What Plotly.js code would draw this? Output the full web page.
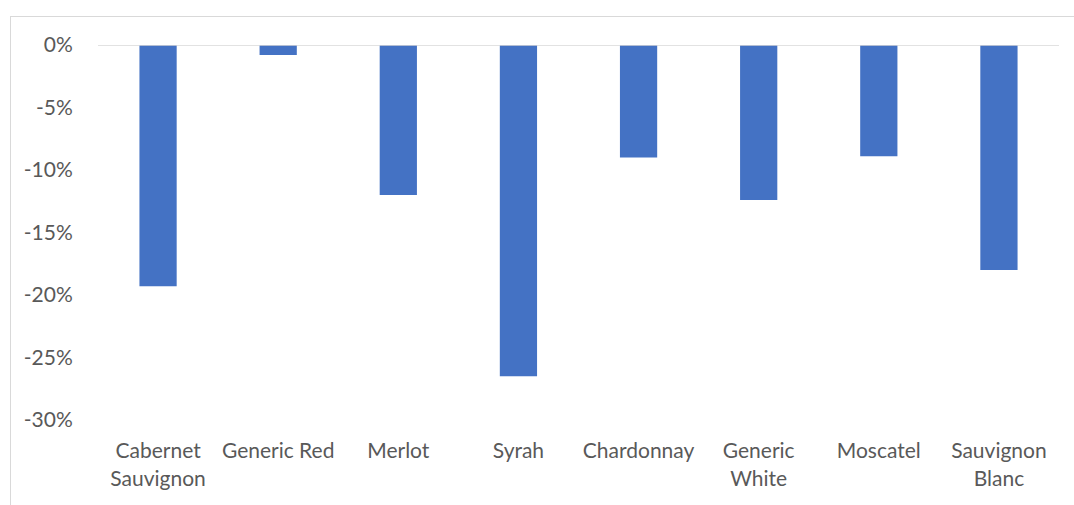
<!DOCTYPE html>
<html>
<head>
<meta charset="utf-8">
<script src="https://cdn.plot.ly/plotly-3.0.1.min.js"></script>
<style>
html,body{margin:0;padding:0;background:#fff;}
#wrap{position:relative;width:1074px;height:505px;overflow:hidden;}
#chart{width:1074px;height:505px;}
#frame{position:absolute;left:10px;top:16px;width:1100px;height:600px;border-left:1.5px solid #d9d9d9;border-top:1.5px solid #d9d9d9;pointer-events:none;}
</style>
</head>
<body>
<div id="wrap"><div id="chart"></div><div id="frame"></div></div>
<script>
const categories = ["Cabernet<br>Sauvignon", "Generic Red", "Merlot", "Syrah", "Chardonnay", "Generic<br>White", "Moscatel", "Sauvignon<br>Blanc"];
const values = [-0.193, -0.008, -0.120, -0.265, -0.090, -0.124, -0.089, -0.180];
const yTicks = [0, -0.05, -0.10, -0.15, -0.20, -0.25, -0.30];
const yTickLabels = ["0%", "-5%", "-10%", "-15%", "-20%", "-25%", "-30%"];

const font = {family: "Lato, 'Open Sans', sans-serif", size: 21, color: "#595959"};

Plotly.newPlot("chart", [{
  type: "bar",
  x: categories,
  y: values,
  marker: {color: "#4472c4", line: {width: 0}},
  width: 0.31,
  hoverinfo: "skip"
}], {
  width: 1074, height: 505,
  margin: {l: 98, r: 15, t: 45, b: 85},
  paper_bgcolor: "#fff", plot_bgcolor: "#fff",
  showlegend: false,
  font: font,
  xaxis: {
    type: "category",
    showgrid: false, zeroline: false, showline: false,
    ticks: "outside", ticklen: 12, tickcolor: "rgba(0,0,0,0)",
    tickfont: font
  },
  yaxis: {
    range: [-0.30, 0],
    tickvals: yTicks, ticktext: yTickLabels,
    showgrid: false, zeroline: false, showline: false,
    ticks: "outside", ticklen: 20, tickcolor: "rgba(0,0,0,0)",
    tickfont: font
  },
  shapes: [{
    type: "line", xref: "paper", yref: "y",
    x0: 0, x1: 1, y0: 0, y1: 0,
    line: {color: "#d9d9d9", width: 1.5}
  }]
}, {staticPlot: true, displayModeBar: false});
</script>
</body>
</html>
